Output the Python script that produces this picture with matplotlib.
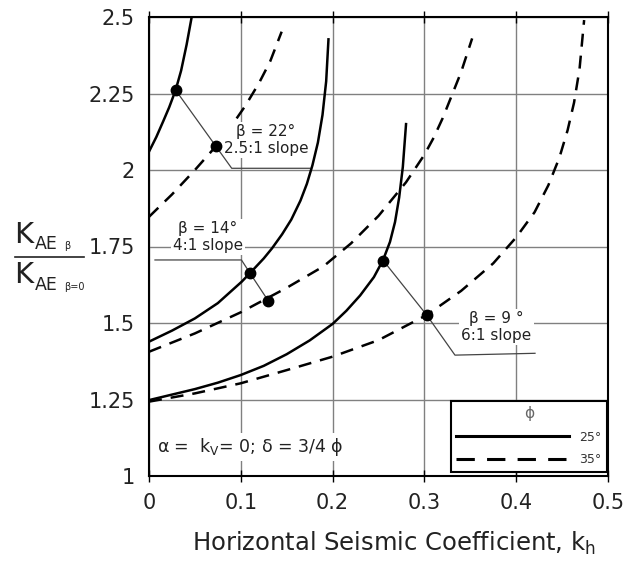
import matplotlib
matplotlib.use("Agg")
import matplotlib.pyplot as plt
from matplotlib.lines import Line2D

plt.rcParams['font.family'] = ['DejaVu Sans']
plt.rcParams['mathtext.fontset'] = 'dejavusans'

# ---------------- data ----------------
x_ticks = [0, 0.1, 0.2, 0.3, 0.4, 0.5]
x_tick_labels = ["0", "0.1", "0.2", "0.3", "0.4", "0.5"]
y_ticks = [1, 1.25, 1.5, 1.75, 2, 2.25, 2.5]
y_tick_labels = ["1", "1.25", "1.5", "1.75", "2", "2.25", "2.5"]

# phi = 25 deg (solid)
s22_x = [0, 0.008, 0.0156, 0.022, 0.029, 0.035, 0.041, 0.0465]
s22_y = [2.06, 2.108, 2.16, 2.205, 2.261, 2.325, 2.41, 2.5]
s14_x = [0, 0.025, 0.05, 0.075, 0.101, 0.110, 0.125, 0.134, 0.145, 0.155, 0.165,
         0.172, 0.178, 0.184, 0.189, 0.193, 0.1955]
s14_y = [1.439, 1.475, 1.515, 1.565, 1.635, 1.663, 1.711, 1.744, 1.79, 1.838, 1.90,
         1.955, 2.015, 2.09, 2.18, 2.29, 2.427]
s9_x = [0, 0.05, 0.075, 0.10, 0.125, 0.15, 0.175, 0.20, 0.215, 0.23, 0.245, 0.255, 0.2625,
        0.268, 0.2725, 0.2765, 0.28]
s9_y = [1.248, 1.284, 1.305, 1.330, 1.36, 1.398, 1.443, 1.497, 1.54, 1.59, 1.65, 1.706, 1.765,
        1.83, 1.91, 2.01, 2.15]

# phi = 35 deg (dashed)
d22_x = [0, 0.025, 0.05, 0.073, 0.09, 0.105, 0.12, 0.132, 0.1445]
d22_y = [1.847, 1.92, 2.0, 2.078, 2.145, 2.21, 2.285, 2.355, 2.452]
d14_x = [0, 0.05, 0.10, 0.15, 0.19, 0.22, 0.25, 0.28, 0.29, 0.30, 0.31, 0.32, 0.34, 0.352]
d14_y = [1.406, 1.466, 1.535, 1.615, 1.685, 1.76, 1.85, 1.96, 2.005, 2.05, 2.105, 2.17,
         2.32, 2.43]
d9_x = [0, 0.05, 0.10, 0.15, 0.20, 0.25, 0.3025, 0.34, 0.375, 0.40, 0.42, 0.435, 0.447,
        0.456, 0.463, 0.469, 0.474]
d9_y = [1.243, 1.270, 1.303, 1.346, 1.390, 1.444, 1.526, 1.605, 1.695, 1.78, 1.862, 1.95,
        2.04, 2.13, 2.22, 2.33, 2.49]

# marked points
dot_x = [0.029, 0.073, 0.110, 0.130, 0.2553, 0.3025]
dot_y = [2.261, 2.077, 1.663, 1.572, 1.7036, 1.526]

# leader lines for the slope labels
lead22_x = [0.029, 0.073, 0.0901, 0.1754]
lead22_y = [2.261, 2.077, 2.0056, 2.0056]
lead14_x = [0.0065, 0.1007, 0.110, 0.130]
lead14_y = [1.706, 1.706, 1.663, 1.572]
lead9_x = [0.2553, 0.3025, 0.3333, 0.4205]
lead9_y = [1.7036, 1.526, 1.395, 1.401]

labels = ["β = 22°\n2.5:1 slope", "β = 14°\n4:1 slope", "β = 9 °\n6:1 slope"]
phi_labels = ["25°", "35°"]

# ---------------- figure ----------------
W, H = 636, 563
fig = plt.figure(figsize=(W / 100, H / 100), dpi=100)
L, R, T, B = 149, 608, 17, 476
ax = fig.add_axes([L / W, 1 - B / H, (R - L) / W, (B - T) / H])
ax.set_xlim(0, 0.5)
ax.set_ylim(1, 2.5)

TXT = '#222222'
ax.set_xticks(x_ticks)
ax.set_xticklabels(x_tick_labels)
ax.set_yticks(y_ticks)
ax.set_yticklabels(y_tick_labels)
ax.tick_params(axis='y', length=0, pad=10, labelsize=15, labelcolor=TXT)
ax.tick_params(axis='x', direction='inout', length=8, width=1, color='black',
               pad=8, labelsize=15, labelcolor=TXT, top=True)
ax.grid(True, color='#808080', linewidth=1.0, zorder=0)
ax.set_axisbelow(True)
for sp in ax.spines.values():
    sp.set_linewidth(1.5)
    sp.set_color('black')

LW = 1.8
DASH = (5.2, 3.6)
ax.plot(d22_x, d22_y, color='black', lw=LW, dashes=DASH, zorder=1)
ax.plot(s22_x, s22_y, color='black', lw=LW, zorder=3)
ax.plot(s14_x, s14_y, color='black', lw=LW, zorder=3)
ax.plot(s9_x, s9_y, color='black', lw=LW, zorder=3)
ax.plot(d14_x, d14_y, color='black', lw=LW, dashes=DASH, zorder=3)
ax.plot(d9_x, d9_y, color='black', lw=LW, dashes=DASH, zorder=3)

for lx, ly in [(lead22_x, lead22_y), (lead14_x, lead14_y), (lead9_x, lead9_y)]:
    ax.plot(lx, ly, color='#444444', lw=0.9, zorder=2.5)

ax.plot(dot_x, dot_y, 'o', color='black', ms=7.5, zorder=4)

bbox = dict(facecolor='white', edgecolor='none', pad=1.5)
ax.text(0.1275, 2.097, labels[0], ha='center', va='center', fontsize=11,
        color=TXT, linespacing=1.15, bbox=bbox, zorder=2)
ax.text(0.0643, 1.782, labels[1], ha='center', va='center', fontsize=11,
        color=TXT, linespacing=1.15, bbox=bbox, zorder=2)
ax.text(0.3785, 1.488, labels[2], ha='center', va='center', fontsize=11,
        color=TXT, linespacing=1.15, bbox=bbox, zorder=2)

ax.text(0.009, 1.095, "α =  k$_\\mathregular{V}$= 0; δ = 3/4 ϕ", ha='left', va='center',
        fontsize=12.5, color=TXT, bbox=dict(facecolor='white', edgecolor='none', pad=2),
        zorder=2)

# legend
h1 = Line2D([], [], color='black', lw=2.2)
h2 = Line2D([], [], color='black', lw=2.2, dashes=(6, 4))
leg = ax.legend([h1, h2], phi_labels, title="ϕ", loc='lower right',
                bbox_to_anchor=(0.4986, 1.014), bbox_transform=ax.transData,
                borderaxespad=0, fontsize=9, title_fontsize=11, handlelength=9,
                handletextpad=0.8, labelspacing=0.75, borderpad=0.45,
                fancybox=False, framealpha=1, edgecolor='black')
leg.get_frame().set_linewidth(1.5)
leg.get_title().set_color('#666666')
for t in leg.get_texts():
    t.set_color('#333333')

# x label
ax.set_xlabel("Horizontal Seismic Coefficient, k$_\\mathregular{h}$", fontsize=17.5, color=TXT)
ax.xaxis.set_label_coords((394 - L) / (R - L), -(530 - B) / (B - T))

# y label: fraction K_AE beta / K_AE beta=0
def fx(x):
    return x / W

def fy(y):
    return 1 - y / H

fig.text(fx(14), fy(243), "K", fontsize=21, color=TXT, va='baseline', ha='left')
fig.text(fx(35), fy(249), "AE", fontsize=12.5, color=TXT, va='baseline', ha='left')
fig.text(fx(64), fy(249), "β", fontsize=7, color=TXT, va='baseline', ha='left')
fig.add_artist(Line2D([fx(15), fx(84)], [fy(256.7), fy(256.7)], color=TXT, lw=1.2,
                      transform=fig.transFigure))
fig.text(fx(14), fy(283), "K", fontsize=21, color=TXT, va='baseline', ha='left')
fig.text(fx(35), fy(290), "AE", fontsize=12.5, color=TXT, va='baseline', ha='left')
fig.text(fx(64), fy(290), "β=0", fontsize=7, color=TXT, va='baseline', ha='left')

fig.savefig("out.png", dpi=100)
